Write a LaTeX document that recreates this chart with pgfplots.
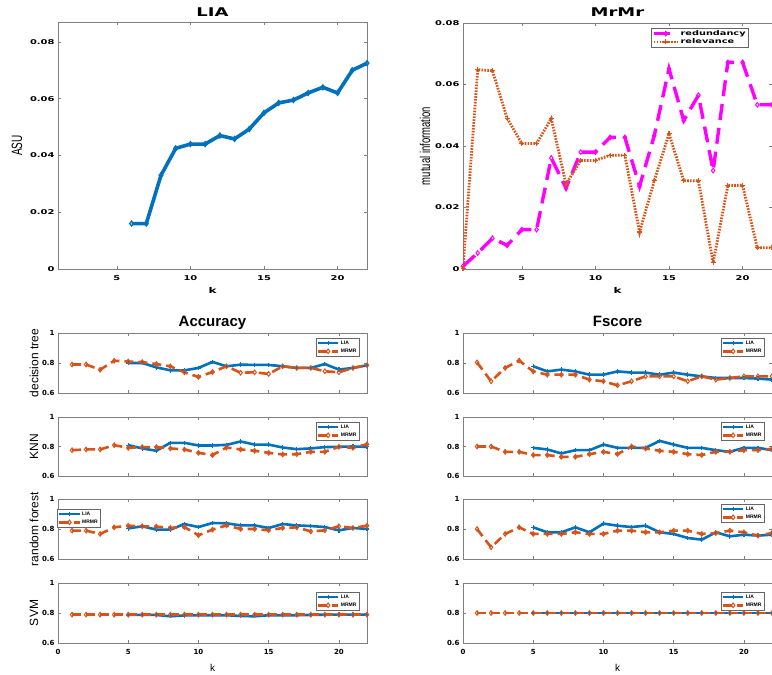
\documentclass[border=0pt]{standalone}
\usepackage{pgfplots}
\pgfplotsset{compat=1.18}
\usepackage{fontspec}
\usepackage{graphicx}
\setmainfont{Liberation Sans}
\newfontfamily\djfont{DejaVu Sans}
\definecolor{mblue}{rgb}{0,0.447,0.741}
\definecolor{morange}{rgb}{0.85,0.325,0.098}
\definecolor{mmag}{rgb}{1,0,1}
\newcommand{\hs}[1]{\scalebox{1.5}[1]{#1}}
\newcommand{\vs}[1]{\scalebox{1}[1.5]{#1}}
\pgfplotsset{
  base/.style={scale only axis, anchor=south west,
    axis line style={draw=black!50, line width=0.5pt},
    tick style={draw=black!50, line width=0.5pt},
    tick align=inside, major tick length=3pt,
    scaled y ticks=false, scaled x ticks=false,
    /pgf/number format/assume math mode=true,
    ticklabel style={text=black}},
  smallax/.style={base, width=309pt, height=60pt, xmin=0, xmax=22, ymin=0.6, ymax=1,
    xtick={0,5,10,15,20}, ytick={0.6,0.8,1}, xticklabels={},
    tick label style={font=\djfont\bfseries\fontsize{7}{8}\selectfont},
    xticklabel style={yshift=-3pt},
    ylabel style={font=\fontsize{12}{13}\selectfont, at={([xshift=-24pt]axis description cs:0,0.5)}, anchor=center},
    legend style={font=\bfseries\fontsize{5}{6}\selectfont, at={(1,1)}, anchor=north east,
      xshift=-8pt, yshift=-5pt, inner sep=1pt, draw=black!60, line width=0.4pt,
      nodes={inner sep=1.4pt}, row sep=0.5pt},
    legend cell align=left,
    legend image code/.code={\draw[mark repeat=2, mark phase=2, ##1] plot coordinates {(0pt,0pt) (10pt,0pt) (20pt,0pt)};}},
  lia/.style={color=mblue, line width=2.6pt, solid, mark=+, mark size=2.2pt, mark options={solid, line width=1.2pt}},
  mr/.style={color=morange, line width=2.6pt, dash pattern=on 9pt off 5pt, mark=diamond, mark size=2.3pt, mark options={solid, line width=1pt, fill=white}},
}
\begin{document}
\begin{tikzpicture}
\path[fill=white, use as bounding box] (0,0) rectangle (772pt,675pt);

% ---------- LIA top ----------
\begin{axis}[base, name=liaax, at={(58pt,406pt)}, width=309pt, height=247pt,
  xmin=1, xmax=22, ymin=0, ymax=0.087,
  xtick={5,10,15,20}, xticklabels={\hs{5},\hs{10},\hs{15},\hs{20}},
  ytick={0,0.02,0.04,0.06,0.08}, yticklabels={\hs{0},\hs{0.02},\hs{0.04},\hs{0.06},\hs{0.08}},
  tick label style={font=\djfont\bfseries\fontsize{6.6}{7}\selectfont},
  xticklabel style={yshift=-3pt},
  xlabel={\hs{k}}, xlabel style={font=\djfont\bfseries\fontsize{8}{9}\selectfont, at={([yshift=-21pt]axis description cs:0.5,0)}, anchor=center},
  ylabel={\vs{ASU}}, ylabel style={font=\fontsize{10}{11}\selectfont, at={([xshift=-41pt]axis description cs:0,0.5)}, anchor=center}]
\addplot[color=mblue, line width=3.6pt, mark=diamond, mark size=2.5pt, mark options={line width=1.2pt, fill=white}] coordinates {
(6,0.016)(7,0.016)(8,0.033)(9,0.0425)(10,0.044)(11,0.044)(12,0.047)(13,0.0458)(14,0.0493)(15,0.055)(16,0.0585)(17,0.0595)(18,0.062)(19,0.064)(20,0.062)(21,0.070)(22,0.0725)};
\end{axis}
\node[anchor=base, inner sep=0pt, font=\djfont\bfseries\fontsize{12}{13}\selectfont] at ([yshift=5pt]liaax.north) {\hs{LIA}};

% ---------- MrMr top ----------
\begin{axis}[base, name=mrax, at={(463pt,406pt)}, width=309pt, height=246pt,
  xmin=1, xmax=22, ymin=0, ymax=0.08,
  xtick={5,10,15,20}, xticklabels={\hs{5},\hs{10},\hs{15},\hs{20}},
  ytick={0,0.02,0.04,0.06,0.08}, yticklabels={\hs{0},\hs{0.02},\hs{0.04},\hs{0.06},\hs{0.08}},
  tick label style={font=\djfont\bfseries\fontsize{6.6}{7}\selectfont},
  xticklabel style={yshift=-3pt},
  xlabel={\hs{k}}, xlabel style={font=\djfont\bfseries\fontsize{8}{9}\selectfont, at={([yshift=-21pt]axis description cs:0.5,0)}, anchor=center},
  ylabel={\vs{mutual information}}, ylabel style={font=\fontsize{9.5}{10}\selectfont, at={([xshift=-38pt]axis description cs:0,0.5)}, anchor=center},
  legend style={font=\djfont\bfseries\fontsize{6.5}{7}\selectfont, at={(1,1)}, anchor=north east, xshift=-24pt, yshift=-5pt,
    inner sep=1pt, draw=black!60, line width=0.4pt, nodes={inner sep=1.2pt}, row sep=-0.5pt},
  legend cell align=left,
  legend image code/.code={\draw[mark repeat=2, mark phase=2, #1] plot coordinates {(0pt,0pt) (12pt,0pt) (24pt,0pt)};}]
\addplot[color=mmag, line width=3.4pt, dash pattern=on 16pt off 8pt, mark=diamond, mark size=2.3pt, mark options={solid, line width=1pt, fill=white}] coordinates {
(1,0.0009)(2,0.0052)(3,0.010)(4,0.0077)(5,0.0128)(6,0.0128)(7,0.0361)(8,0.0263)(9,0.038)(10,0.038)(11,0.0428)(12,0.0428)(13,0.0269)(14,0.0434)(15,0.0651)(16,0.0483)(17,0.0565)(18,0.032)(19,0.0672)(20,0.0672)(21,0.0534)(22,0.0534)};
\addlegendentry{\hs{redundancy}}
\addplot[color=morange, line width=2.8pt, dash pattern=on 1.6pt off 1.3pt, mark=+, mark size=2.5pt, mark options={solid, line width=1.2pt}] coordinates {
(1,0.0002)(2,0.0648)(3,0.0645)(4,0.049)(5,0.0408)(6,0.0408)(7,0.0489)(8,0.0276)(9,0.0353)(10,0.0353)(11,0.037)(12,0.037)(13,0.012)(14,0.0287)(15,0.044)(16,0.0287)(17,0.0287)(18,0.002)(19,0.0272)(20,0.0272)(21,0.0069)(22,0.0069)};
\addlegendentry{\hs{relevance}}
\end{axis}
\node[anchor=base, inner sep=0pt, font=\djfont\bfseries\fontsize{12}{13}\selectfont] at ([yshift=6pt]mrax.north) {\hs{MrMr}};

% ---------- Accuracy: decision tree ----------
\begin{axis}[smallax, name=accdt, at={(58pt,282pt)}, ylabel={decision tree}]
\addplot[lia] coordinates {(5,0.8)(6,0.8)(7,0.771)(8,0.751)(9,0.751)(10,0.767)(11,0.807)(12,0.778)(13,0.789)(14,0.787)(15,0.787)(16,0.778)(17,0.767)(18,0.767)(19,0.793)(20,0.756)(21,0.767)(22,0.785)};
\addlegendentry{LIA}
\addplot[mr] coordinates {(1,0.79)(2,0.79)(3,0.755)(4,0.815)(5,0.81)(6,0.806)(7,0.793)(8,0.778)(9,0.738)(10,0.707)(11,0.74)(12,0.778)(13,0.735)(14,0.738)(15,0.727)(16,0.778)(17,0.767)(18,0.767)(19,0.745)(20,0.738)(21,0.767)(22,0.785)};
\addlegendentry{MRMR}
\end{axis}
\node[anchor=base, inner sep=0pt, font=\bfseries\fontsize{15}{16}\selectfont] at ([yshift=6pt]accdt.north) {Accuracy};

% ---------- Accuracy: KNN ----------
\begin{axis}[smallax, at={(58pt,199pt)}, height=59pt, ylabel={KNN}]
\addplot[lia] coordinates {(5,0.809)(6,0.787)(7,0.771)(8,0.825)(9,0.825)(10,0.807)(11,0.807)(12,0.811)(13,0.834)(14,0.813)(15,0.813)(16,0.793)(17,0.782)(18,0.787)(19,0.796)(20,0.798)(21,0.8)(22,0.798)};
\addlegendentry{LIA}
\addplot[mr] coordinates {(1,0.775)(2,0.78)(3,0.78)(4,0.809)(5,0.791)(6,0.796)(7,0.796)(8,0.787)(9,0.78)(10,0.757)(11,0.742)(12,0.793)(13,0.78)(14,0.771)(15,0.757)(16,0.746)(17,0.748)(18,0.764)(19,0.764)(20,0.798)(21,0.791)(22,0.816)};
\addlegendentry{MRMR}
\end{axis}

% ---------- Accuracy: random forest ----------
\begin{axis}[smallax, at={(58pt,116pt)}, ylabel={random forest},
  legend style={at={(0,1)}, anchor=north west, xshift=7pt, yshift=-5pt}]
\addplot[lia] coordinates {(5,0.804)(6,0.818)(7,0.796)(8,0.796)(9,0.833)(10,0.813)(11,0.84)(12,0.838)(13,0.824)(14,0.824)(15,0.807)(16,0.833)(17,0.824)(18,0.82)(19,0.813)(20,0.791)(21,0.807)(22,0.8)};
\addlegendentry{LIA}
\addplot[mr] coordinates {(1,0.789)(2,0.789)(3,0.767)(4,0.811)(5,0.822)(6,0.818)(7,0.816)(8,0.807)(9,0.813)(10,0.758)(11,0.796)(12,0.824)(13,0.8)(14,0.8)(15,0.791)(16,0.807)(17,0.811)(18,0.784)(19,0.791)(20,0.818)(21,0.807)(22,0.822)};
\addlegendentry{MRMR}
\end{axis}

% ---------- Accuracy: SVM ----------
\begin{axis}[smallax, at={(58pt,32pt)}, ylabel={SVM},
  xticklabels={0,5,10,15,20},
  xlabel={k}, xlabel style={font=\fontsize{10}{11}\selectfont, at={([yshift=-25pt]axis description cs:0.5,0)}, anchor=center},
  legend style={yshift=-4pt}]
\addplot[lia] coordinates {(5,0.787)(6,0.787)(7,0.787)(8,0.778)(9,0.784)(10,0.785)(11,0.785)(12,0.785)(13,0.78)(14,0.778)(15,0.785)(16,0.785)(17,0.785)(18,0.787)(19,0.789)(20,0.789)(21,0.789)(22,0.789)};
\addlegendentry{LIA}
\addplot[mr] coordinates {(1,0.789)(2,0.789)(3,0.789)(4,0.789)(5,0.789)(6,0.789)(7,0.789)(8,0.789)(9,0.789)(10,0.789)(11,0.789)(12,0.789)(13,0.789)(14,0.789)(15,0.789)(16,0.789)(17,0.789)(18,0.789)(19,0.789)(20,0.789)(21,0.789)(22,0.789)};
\addlegendentry{MRMR}
\end{axis}

% ---------- Fscore: decision tree ----------
\begin{axis}[smallax, name=fdt, at={(463pt,282pt)}]
\addplot[lia] coordinates {(5,0.778)(6,0.744)(7,0.756)(8,0.744)(9,0.722)(10,0.722)(11,0.744)(12,0.736)(13,0.736)(14,0.722)(15,0.736)(16,0.722)(17,0.711)(18,0.7)(19,0.7)(20,0.7)(21,0.696)(22,0.689)};
\addlegendentry{LIA}
\addplot[mr] coordinates {(1,0.804)(2,0.678)(3,0.767)(4,0.816)(5,0.744)(6,0.722)(7,0.722)(8,0.722)(9,0.689)(10,0.678)(11,0.651)(12,0.678)(13,0.711)(14,0.711)(15,0.711)(16,0.678)(17,0.711)(18,0.689)(19,0.7)(20,0.711)(21,0.711)(22,0.711)};
\addlegendentry{MRMR}
\end{axis}
\node[anchor=base, inner sep=0pt, font=\bfseries\fontsize{15}{16}\selectfont] at ([yshift=6pt]fdt.north) {Fscore};

% ---------- Fscore: KNN ----------
\begin{axis}[smallax, at={(463pt,199pt)}, height=59pt]
\addplot[lia] coordinates {(5,0.791)(6,0.78)(7,0.753)(8,0.775)(9,0.775)(10,0.813)(11,0.791)(12,0.791)(13,0.791)(14,0.838)(15,0.813)(16,0.791)(17,0.791)(18,0.775)(19,0.764)(20,0.791)(21,0.791)(22,0.775)};
\addlegendentry{LIA}
\addplot[mr] coordinates {(1,0.8)(2,0.8)(3,0.764)(4,0.764)(5,0.742)(6,0.742)(7,0.73)(8,0.73)(9,0.748)(10,0.764)(11,0.748)(12,0.8)(13,0.787)(14,0.771)(15,0.764)(16,0.748)(17,0.742)(18,0.764)(19,0.764)(20,0.775)(21,0.775)(22,0.784)};
\addlegendentry{MRMR}
\end{axis}

% ---------- Fscore: random forest ----------
\begin{axis}[smallax, at={(463pt,116pt)}]
\addplot[lia] coordinates {(5,0.811)(6,0.778)(7,0.778)(8,0.811)(9,0.778)(10,0.836)(11,0.822)(12,0.813)(13,0.822)(14,0.778)(15,0.767)(16,0.74)(17,0.729)(18,0.778)(19,0.751)(20,0.762)(21,0.756)(22,0.762)};
\addlegendentry{LIA}
\addplot[mr] coordinates {(1,0.8)(2,0.678)(3,0.767)(4,0.811)(5,0.767)(6,0.767)(7,0.767)(8,0.778)(9,0.767)(10,0.767)(11,0.789)(12,0.789)(13,0.778)(14,0.778)(15,0.789)(16,0.789)(17,0.767)(18,0.773)(19,0.789)(20,0.778)(21,0.756)(22,0.773)};
\addlegendentry{MRMR}
\end{axis}

% ---------- Fscore: SVM ----------
\begin{axis}[smallax, at={(463pt,32pt)},
  xticklabels={0,5,10,15,20},
  xlabel={k}, xlabel style={font=\fontsize{10}{11}\selectfont, at={([yshift=-25pt]axis description cs:0.5,0)}, anchor=center},
  legend style={yshift=-4pt}]
\addplot[lia] coordinates {(5,0.8)(6,0.8)(7,0.8)(8,0.8)(9,0.8)(10,0.8)(11,0.8)(12,0.8)(13,0.8)(14,0.8)(15,0.8)(16,0.8)(17,0.8)(18,0.8)(19,0.8)(20,0.8)(21,0.8)(22,0.8)};
\addlegendentry{LIA}
\addplot[mr] coordinates {(1,0.8)(2,0.8)(3,0.8)(4,0.8)(5,0.8)(6,0.8)(7,0.8)(8,0.8)(9,0.8)(10,0.8)(11,0.8)(12,0.8)(13,0.8)(14,0.8)(15,0.8)(16,0.8)(17,0.8)(18,0.8)(19,0.8)(20,0.8)(21,0.8)(22,0.8)};
\addlegendentry{MRMR}
\end{axis}
\end{tikzpicture}
\end{document}
